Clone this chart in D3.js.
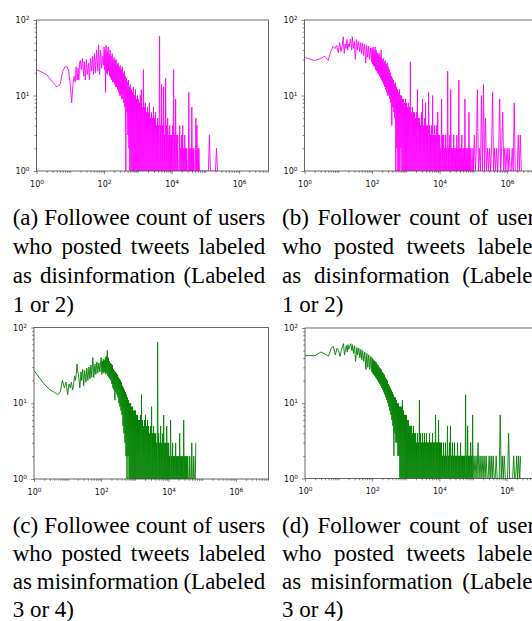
<!DOCTYPE html>
<html>
<head>
<meta charset="utf-8">
<script src="https://cdn.jsdelivr.net/npm/d3@7"></script>
<style>
body { margin: 0; background: #fff; }
</style>
</head>
<body>
<div id="chart"></div>
<script>
const ancho = 532
const alto = 621

// valores del eje x (número de cuentas), compartidos por los cuatro gráficos
const cuentas = [
    1, 2, 3, 4, 5, 6, 7, 8, 9, 10, 11, 12, 13, 14, 15, 16, 17, 18, 19, 20,
    21, 23, 25, 26, 28, 30, 32, 35, 37, 40, 43, 46, 49, 52, 56, 60, 65, 69, 74, 79, 85, 91, 98,
    100, 104, 107, 111, 115, 119, 123, 127, 132, 136, 141, 146, 151, 157, 162, 168, 174, 180, 186, 193, 200, 207, 214, 221, 229, 237, 245, 254, 263, 272, 282, 292, 302, 313, 324, 335, 347, 359, 372, 385, 398, 412, 427, 442, 457, 473, 490, 507, 525, 543, 562, 582, 603, 624, 646, 668, 692, 716, 741, 767, 794, 822, 851, 881, 912, 944, 977,
    1000, 1035, 1072, 1109, 1148, 1189, 1230, 1274, 1318, 1365, 1413, 1462, 1514, 1567, 1622, 1679, 1738, 1799, 1862, 1928, 1995, 2065, 2138, 2213, 2291, 2371, 2455, 2541, 2630, 2723, 2818, 2917, 3020, 3126, 3236, 3350, 3467, 3589, 3715, 3846, 3981, 4121, 4266, 4416, 4571, 4732, 4898, 5070, 5248, 5433, 5623, 5821, 6026, 6237, 6457, 6683, 6918, 7161, 7413, 7674, 7943, 8222, 8511, 8810, 9120, 9441, 9772,
    10000, 10351, 10715, 11092, 11482, 11885, 12303, 12735, 13183, 13646, 14125, 14622, 15136, 15668, 16218, 16788, 17378, 17989, 18621, 19275, 19953, 20654, 21380, 22131, 22909, 23714, 24547, 25410, 26303, 27227, 28184, 29174, 30200, 31261, 32359, 33497, 34674, 35892, 37154, 38459, 39811, 41210, 42658, 44157, 45709, 47315, 48978, 50699, 52481, 54325, 56234, 58210, 60256, 62373, 64565, 66834, 69183, 71614, 74131, 76736, 79433, 82224, 85114, 88105, 91201, 94406, 97724,
    100000, 107152, 114815, 123027, 131826, 141254, 151356, 162181, 173780, 186209, 199526, 213796, 229087, 245471, 263027, 281838, 301995, 323594, 346737, 371535, 398107, 426580, 457088, 489779, 524807, 562341, 602560, 645654, 691831, 741310, 794328, 851138, 912011,
    1000000, 1071519, 1148154, 1230269, 1318257, 1412538, 1513561, 1621810, 1737801, 1862087, 1995262, 2137962, 2290868, 2454709, 2630268
]

// número de usuarios para cada valor de cuentas (mismo orden que arriba)
const seguidosDesinfo = [
    22, 19, 15, 13, 14, 21, 24, 24, 21, 14, 8, 14, 18, 15, 24, 16, 23, 16, 28, 29,
    22, 31, 18, 28, 16, 30, 19, 27, 16, 31, 21, 33, 19, 36, 20, 40, 21, 47, 19, 40, 23, 33, 25,
    44, 22, 40, 11, 46, 20, 38, 19, 44, 21, 35, 18, 40, 17, 33, 16, 36, 15, 30, 15, 32, 14, 29, 13, 30, 13, 26, 12, 27, 11, 24, 10, 25, 10, 22, 9, 24, 9, 20, 8, 21, 7, 18, 1, 17, 6, 15, 3, 16, 2, 13, 1, 14, 1, 12, 1, 11, 1, 13, 1, 10, 1, 12, 1, 9, 1, 10,
    1, 9, 1, 8, 1, 10, 1, 12, 1, 7, 1, 22, 1, 7, 1, 8, 1, 6, 1, 7, 1, 6, 1, 8, 1, 5, 1, 6, 1, 5, 1, 7, 1, 5, 1, 6, 1, 4, 1, 5, 1, 4, 1, 61, 1, 4, 1, 14, 1, 4, 1, 13, 1, 3, 1, 17, 1, 4, 1, 5, 1, 3, 1, 4, 1, 3, 1,
    3, 1, 4, 1, 22, 1, 3, 1, 9, 1, 3, 1, 3, 1, 1, 1, 4, 1, 2, 1, 3, 1, 4, 1, 2, 1, 3, 1, 2, 1, 2, 1, 1, 1, 11, 1, 2, 1, 2, 1, 7, 1, 2, 1, 2, 1, 1, 1, 5, 1, 4, 1, 2, 1, 2, 1, 1, 1, 1, 1, 1, 1, 1, 1, 1, 1, 1,
    1, 1, 1, 1, 3, 1, 1, 1, 1, 1, 1, 2, 1
]

const seguidoresDesinfo = [
    32, 29, 31, 33, 29, 38, 45, 42, 46, 37, 50, 38, 45, 60, 36, 48, 42, 55, 40, 48,
    44, 56, 40, 60, 42, 52, 30, 55, 40, 52, 38, 50, 36, 50, 34, 48, 27, 46, 32, 45, 30, 43, 28,
    42, 26, 44, 25, 40, 24, 44, 22, 40, 21, 37, 20, 35, 19, 36, 18, 32, 17, 40, 16, 30, 15, 31, 14, 28, 13, 29, 12, 26, 11, 27, 10, 24, 10, 22, 9, 20, 8, 18, 4, 17, 7, 16, 6, 14, 5, 15, 1, 13, 2, 12, 1, 11, 1, 12, 1, 10, 2, 10, 1, 9, 1, 9, 1, 8, 1, 9,
    1, 8, 1, 7, 1, 8, 1, 7, 1, 28, 1, 6, 1, 7, 1, 6, 1, 6, 1, 5, 1, 6, 1, 12, 1, 5, 1, 5, 1, 4, 1, 6, 1, 9, 1, 4, 1, 5, 1, 8, 1, 4, 1, 4, 1, 11, 1, 4, 1, 3, 1, 4, 1, 10, 1, 3, 1, 4, 1, 3, 1, 4, 1, 6, 1, 3, 1,
    3, 1, 2, 1, 9, 1, 3, 1, 3, 1, 2, 1, 3, 1, 2, 1, 21, 1, 2, 1, 3, 1, 12, 1, 2, 1, 2, 1, 3, 1, 2, 1, 2, 1, 3, 1, 2, 1, 16, 1, 2, 1, 2, 1, 3, 1, 2, 1, 2, 1, 9, 1, 2, 1, 2, 1, 2, 1, 6, 1, 2, 1, 2, 1, 1, 1, 2,
    1, 3, 1, 2, 12, 1, 2, 1, 10, 1, 14, 1, 5, 1, 2, 1, 2, 1, 2, 11, 1, 2, 1, 2, 1, 2, 9, 1, 2, 6, 1, 2, 1,
    2, 1, 2, 1, 1, 2, 1, 8, 1, 1, 1, 3, 1, 3, 1
]

const seguidosMisinfo = [
    27, 18, 15, 14, 13, 14, 20, 16, 19, 13, 18, 16, 19, 15, 17, 23, 20, 24, 33, 26,
    24, 16, 26, 20, 28, 17, 27, 19, 29, 20, 30, 21, 32, 22, 40, 22, 33, 24, 35, 25, 34, 26, 40,
    40, 24, 36, 26, 38, 25, 37, 26, 40, 24, 42, 25, 50, 23, 40, 22, 36, 21, 34, 20, 33, 18, 32, 16, 28, 15, 27, 11, 26, 14, 25, 13, 24, 12, 22, 10, 21, 9, 20, 8, 19, 7, 17, 5, 16, 4, 15, 3, 14, 2, 13, 1, 12, 2, 11, 1, 10, 1, 10, 1, 9, 1, 9, 1, 8, 1, 8,
    1, 8, 1, 7, 1, 7, 1, 6, 1, 6, 1, 7, 1, 13, 1, 6, 1, 5, 1, 6, 1, 7, 1, 5, 1, 6, 1, 5, 1, 4, 1, 5, 1, 9, 1, 4, 1, 5, 1, 4, 1, 4, 1, 3, 1, 64, 1, 4, 1, 3, 1, 5, 1, 3, 1, 4, 1, 7, 1, 3, 1, 3, 1, 5, 1, 3, 1,
    3, 1, 2, 1, 6, 1, 2, 1, 3, 1, 2, 1, 2, 1, 3, 1, 2, 1, 2, 1, 2, 1, 4, 1, 2, 1, 2, 1, 2, 1, 6, 1, 2, 1, 2, 1, 2, 1, 2, 1, 1, 1, 2, 1, 1, 1, 3, 1, 1, 1, 2, 1, 1, 1, 3
]

const seguidoresMisinfo = [
    43, 43, 48, 45, 42, 54, 57, 44, 54, 50, 42, 50, 56, 62, 44, 52, 58, 48, 60, 52,
    56, 62, 50, 60, 46, 58, 36, 55, 44, 54, 40, 52, 38, 50, 36, 48, 28, 46, 30, 44, 28, 42, 26,
    40, 25, 38, 24, 37, 23, 36, 22, 35, 21, 33, 20, 32, 19, 30, 18, 29, 17, 28, 16, 26, 15, 25, 14, 24, 13, 22, 12, 21, 11, 20, 10, 18, 9, 17, 8, 16, 7, 15, 6, 14, 5, 13, 2, 12, 4, 12, 3, 11, 3, 10, 2, 10, 2, 9, 1, 9, 1, 9, 1, 11, 1, 8, 1, 7, 1, 7,
    1, 7, 1, 6, 1, 6, 1, 5, 1, 5, 1, 5, 1, 4, 1, 5, 1, 4, 1, 4, 1, 3, 1, 4, 1, 3, 1, 11, 1, 4, 1, 3, 1, 4, 1, 3, 1, 4, 1, 3, 1, 4, 1, 3, 1, 3, 1, 4, 1, 3, 1, 3, 1, 4, 1, 3, 1, 3, 1, 7, 1, 3, 1, 3, 1, 6, 1,
    3, 1, 3, 1, 3, 1, 2, 1, 3, 1, 2, 1, 3, 1, 2, 1, 5, 1, 2, 1, 3, 1, 5, 1, 2, 1, 3, 1, 2, 1, 3, 1, 2, 1, 2, 1, 3, 1, 2, 1, 2, 1, 3, 1, 2, 1, 2, 1, 2, 1, 2, 1, 13, 1, 2, 1, 5, 1, 2, 1, 2, 1, 3, 1, 2, 1, 7,
    1, 2, 1, 2, 1, 3, 1, 2, 1, 2, 1, 2, 1, 2, 1, 1, 2, 1, 2, 1, 2, 1, 1, 2, 1, 1, 1, 7, 1, 2, 1, 2, 1,
    1, 1, 4, 1, 1, 1, 1, 2, 1, 1, 2, 1, 2, 1, 2
]

const ticksX = [1, 100, 10000, 1000000]
const ticksY = [1, 10, 100]

const leyendaA = ["(a) Followee count of users", "who posted tweets labeled", "as disinformation (Labeled", "1 or 2)"]
const leyendaB = ["(b) Follower count of users", "who posted tweets labeled", "as disinformation (Labeled", "1 or 2)"]
const leyendaC = ["(c) Followee count of users", "who posted tweets labeled", "as misinformation (Labeled", "3 or 4)"]
const leyendaD = ["(d) Follower count of users", "who posted tweets labeled", "as misinformation (Labeled", "3 or 4)"]

const paneles = [
    { datos: seguidosDesinfo, color: "#ff00ff", x0: 36.5, x1: 268.5, y0: 20, y1: 171, maxExp: 6.87, leyenda: leyendaA, tx: 12.7, ty: 224.5, anchoTexto: 252.5, interlineado: 29 },
    { datos: seguidoresDesinfo, color: "#ff00ff", x0: 304.5, x1: 536.5, y0: 20, y1: 171, maxExp: 6.87, leyenda: leyendaB, tx: 282, ty: 224.5, anchoTexto: 262, interlineado: 29 },
    { datos: seguidosMisinfo, color: "#008000", x0: 34, x1: 268.5, y0: 327.5, y1: 479, maxExp: 6.97, leyenda: leyendaC, tx: 12.7, ty: 532.5, anchoTexto: 252.5, interlineado: 28.2 },
    { datos: seguidoresMisinfo, color: "#008000", x0: 305, x1: 536.5, y0: 328, y1: 478.5, maxExp: 6.89, leyenda: leyendaD, tx: 282, ty: 532.5, anchoTexto: 262, interlineado: 28.2 }
]

const svg = d3.select("#chart").append("svg").attr("id", "svg").attr("width", ancho).attr("height", alto)
svg.append("rect").attr("width", ancho).attr("height", alto).attr("fill", "#fff")
const defs = svg.append("defs")

// pone "10" con el exponente en superíndice
function potencia(seleccion) {
    seleccion.selectAll(".tick text").each(function (d) {
        const exp = Math.round(Math.log10(d))
        const t = d3.select(this).text("")
        t.append("tspan").text("10")
        t.append("tspan").attr("dy", "-0.5em").attr("font-size", "5.8px").text(exp)
    })
}

function esMayor(v, lista) {
    return lista.some(t => Math.abs(v / t - 1) < 1e-6)
}

// texto justificado como en el pie de figura
function escribirLeyenda(lineas, x, y, anchoTexto, interlineado) {
    const g = svg.append("g").attr("font-family", "Liberation Serif, Times New Roman, serif")
        .attr("font-size", 23).attr("fill", "#000")
    lineas.forEach((linea, i) => {
        const texto = g.append("text").attr("y", y + i * interlineado)
        if (i === lineas.length - 1) {
            texto.attr("x", x).text(linea)
            return
        }
        const palabras = linea.split(" ")
        const spans = palabras.map(p => texto.append("tspan").text(p))
        const anchos = spans.map(s => s.node().getComputedTextLength())
        const hueco = (anchoTexto - d3.sum(anchos)) / (palabras.length - 1)
        let pos = x
        spans.forEach((s, k) => {
            s.attr("x", pos)
            pos += anchos[k] + hueco
        })
    })
}

paneles.forEach((p, n) => {
    if (p.datos.length > cuentas.length) console.log("demasiados valores en el panel", n)

    const x = d3.scaleLog().domain([1, Math.pow(10, p.maxExp)]).range([p.x0, p.x1])
    const y = d3.scaleLog().domain([1, 100]).range([p.y1, p.y0])

    defs.append("clipPath").attr("id", "recorte" + n).append("rect")
        .attr("x", p.x0).attr("y", p.y0).attr("width", p.x1 - p.x0).attr("height", p.y1 - p.y0)

    const grupo = svg.append("g").attr("color", "#333")

    const linea = d3.line()
        .x((d, i) => x(cuentas[i]))
        .y(d => y(d))

    grupo.append("path").datum(p.datos)
        .attr("d", linea)
        .attr("fill", "none")
        .attr("stroke", p.color)
        .attr("stroke-width", 0.9)
        .attr("clip-path", `url(#recorte${n})`)

    // marco
    grupo.append("rect")
        .attr("x", p.x0).attr("y", p.y0).attr("width", p.x1 - p.x0).attr("height", p.y1 - p.y0)
        .attr("fill", "none").attr("stroke", "#444").attr("stroke-width", 0.8)

    const menoresX = x.ticks().filter(v => !esMayor(v, ticksX))
    const menoresY = y.ticks().filter(v => !esMayor(v, ticksY))

    const grupoMenX = grupo.append("g").attr("transform", `translate(0, ${p.y1})`)
        .call(d3.axisBottom(x).tickValues(menoresX).tickSize(1.8).tickFormat(""))
    const grupoMenY = grupo.append("g").attr("transform", `translate(${p.x0}, 0)`)
        .call(d3.axisLeft(y).tickValues(menoresY).tickSize(1.8).tickFormat(""))

    const grupoX = grupo.append("g").attr("transform", `translate(0, ${p.y1})`)
        .call(d3.axisBottom(x).tickValues(ticksX).tickSize(3))
    const grupoY = grupo.append("g").attr("transform", `translate(${p.x0}, 0)`)
        .call(d3.axisLeft(y).tickValues(ticksY).tickSize(3).tickPadding(4))

    ;[grupoMenX, grupoMenY, grupoX, grupoY].forEach(g => {
        g.select(".domain").remove()
        g.selectAll("line").attr("stroke-width", 0.6)
        g.attr("font-family", "DejaVu Sans, sans-serif").attr("font-size", 8)
    })

    potencia(grupoX)
    potencia(grupoY)
    grupoX.selectAll(".tick text").attr("y", 15.5).attr("dy", null).attr("fill", "#111")
    grupoY.selectAll(".tick text").attr("fill", "#111")

    escribirLeyenda(p.leyenda, p.tx, p.ty, p.anchoTexto, p.interlineado)
})
</script>
</body>
</html>
